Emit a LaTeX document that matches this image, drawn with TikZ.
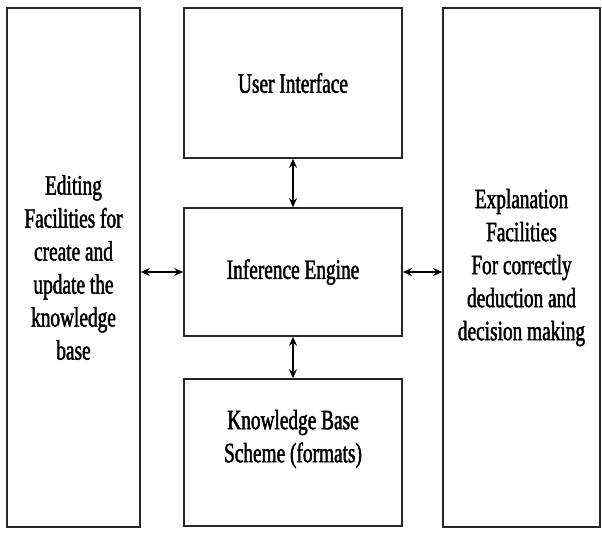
\documentclass[tikz,border=0pt]{standalone}
\usepackage{fontspec}
\setmainfont[FakeStretch=0.69,FakeBold=1.6]{Liberation Serif}
\usepackage{tikz}
\usetikzlibrary{arrows.meta}

\begin{document}
\begin{tikzpicture}[x=1pt,y=-1pt,
    box/.style={draw=black!85,line width=1.6pt,align=center,inner sep=0pt,
      font=\fontsize{28}{33}\selectfont},
    link/.style={line width=1.5pt,{Stealth[length=9pt,width=8pt]}-{Stealth[length=9pt,width=8pt]}}]
         \useasboundingbox (0,0) rectangle (602,533);
         \node[box,minimum width=133,minimum height=519] (edit) at (73.5,267.5)
            {Editing\\Facilities for\\create and\\update the\\knowledge\\base};
         \node[box,minimum width=157,minimum height=519] (expl) at (521.5,267.5)
            {Explanation\\Facilities\\For correctly\\deduction and\\decision making};
         \node[box,minimum width=218,minimum height=150] (ui) at (293,83) {User Interface};
         \node[box,minimum width=218,minimum height=128] (ie) at (293,272) {Inference Engine};
         \node[box,minimum width=218,minimum height=147] (kb) at (293,452.5)
            {Knowledge Base\\Scheme (formats)\\\mbox{}};
         \draw[link] (ui) -- (ie);
         \draw[link] (ie) -- (kb);
         \draw[link] (ie.west) -- (ie.west -| edit.east);
         \draw[link] (ie.east) -- (ie.east -| expl.west);
      \end{tikzpicture}
\end{document}
